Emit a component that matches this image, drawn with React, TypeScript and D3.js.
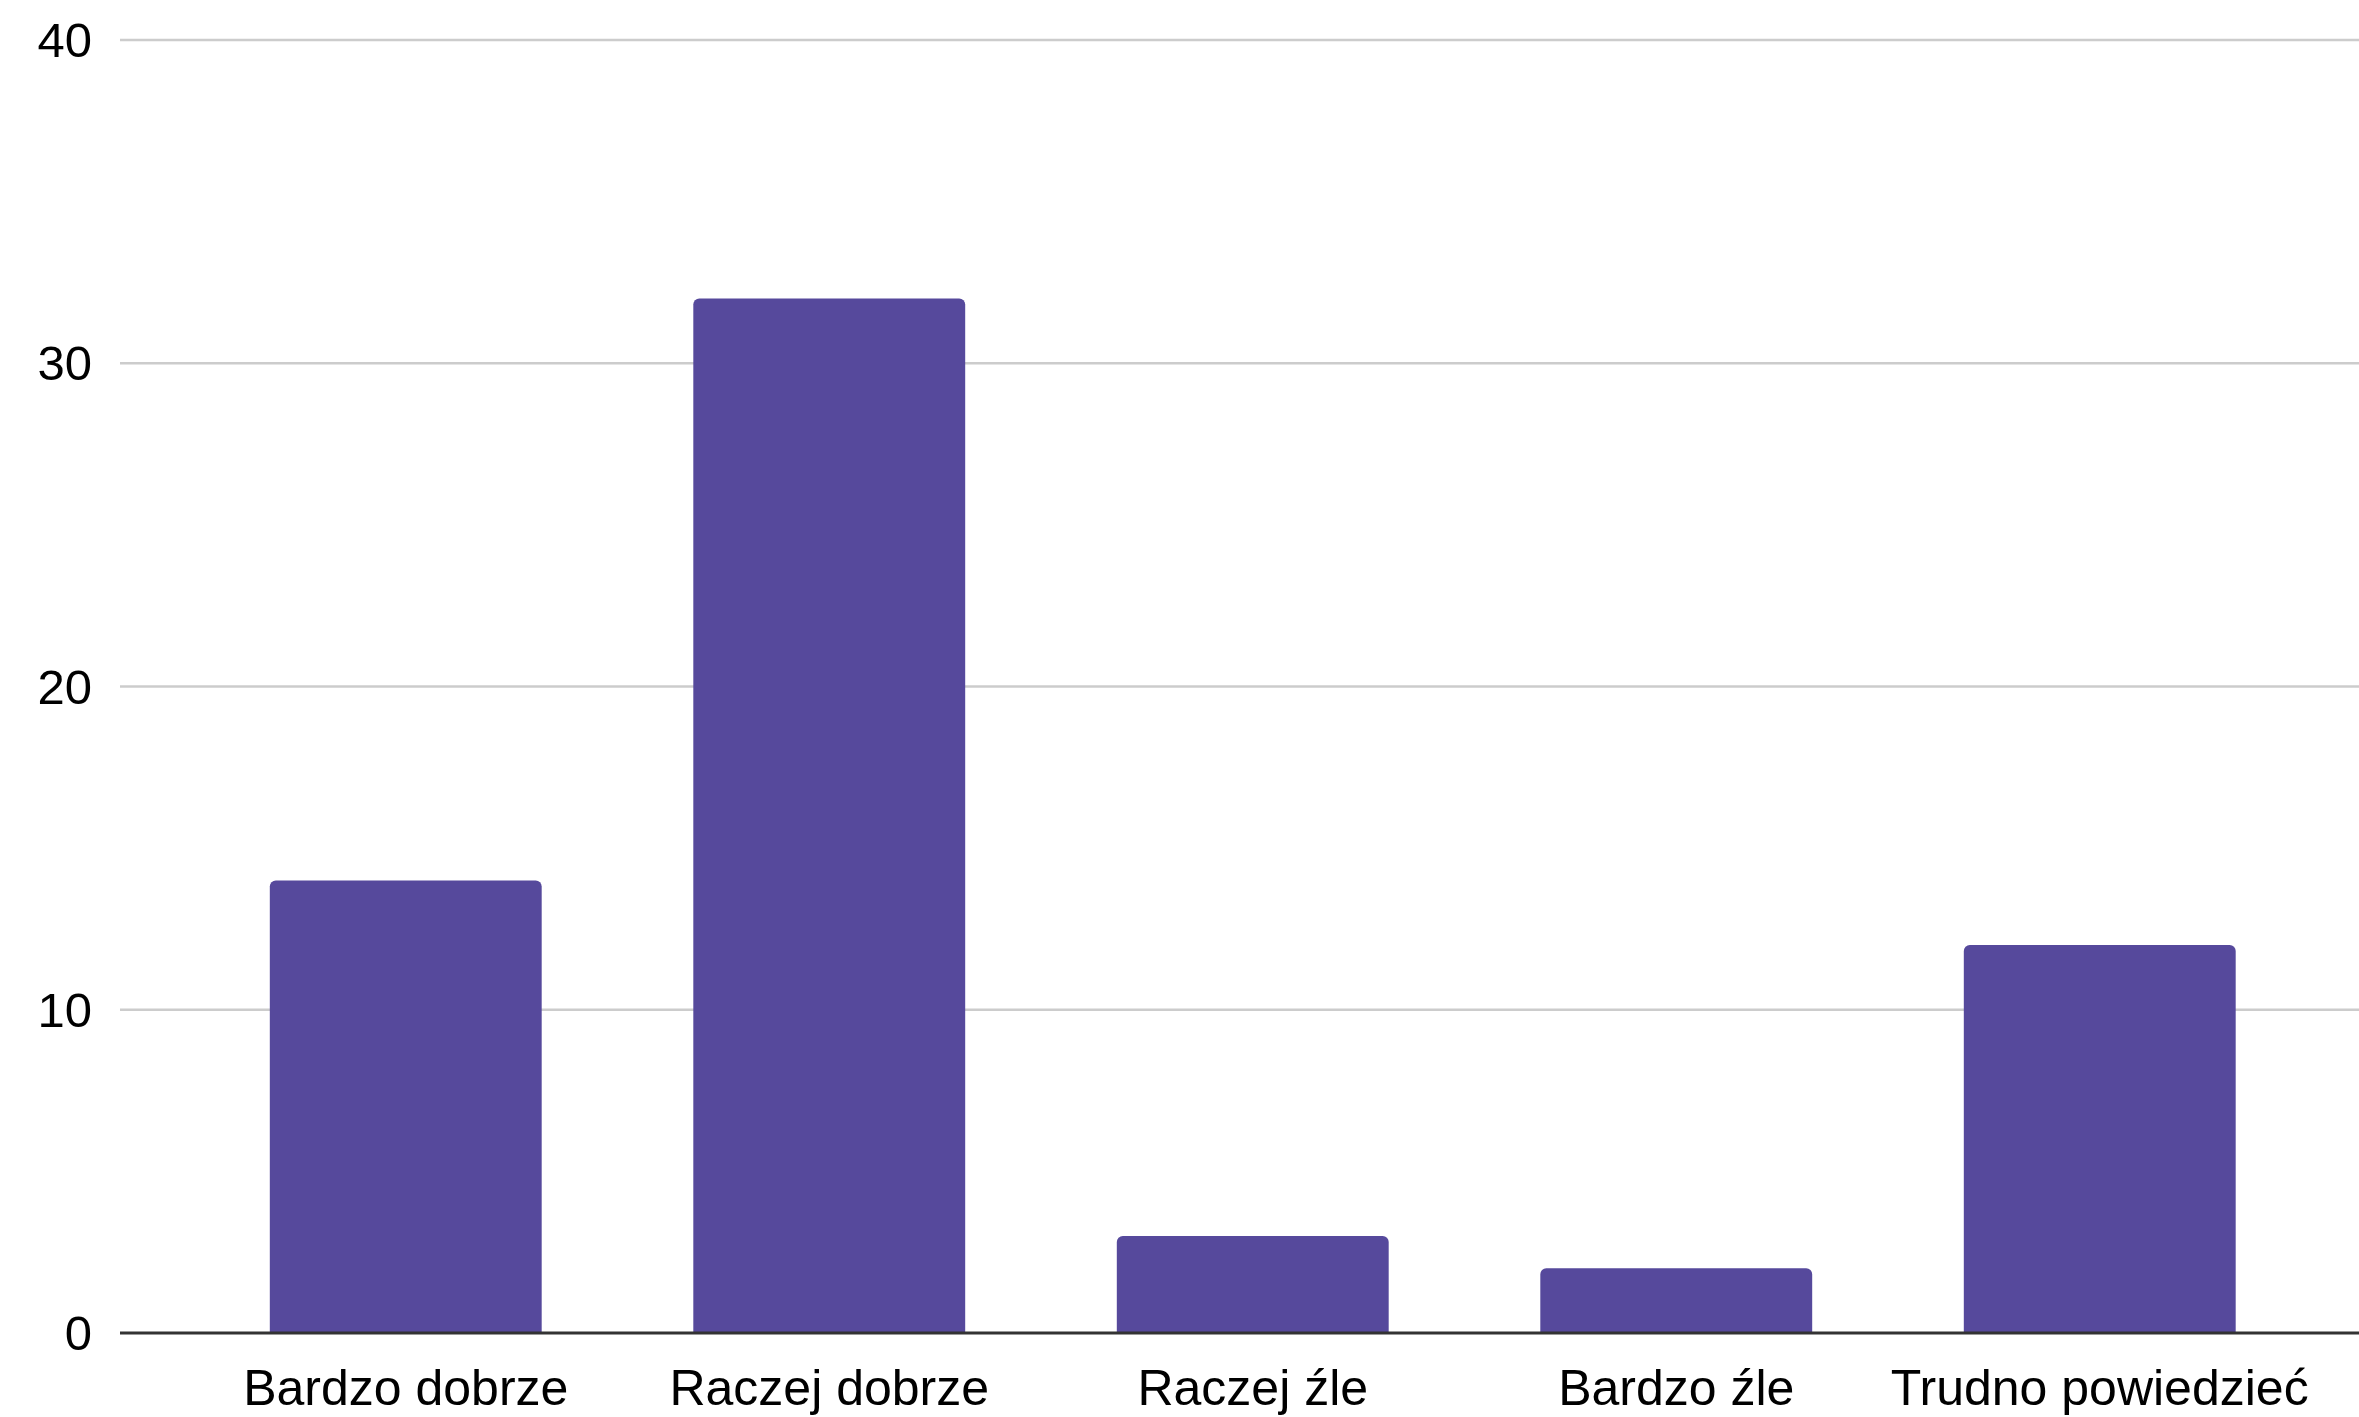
import React from "react";
import * as d3 from "d3";

const categories = ["Bardzo dobrze", "Raczej dobrze", "Raczej źle", "Bardzo źle", "Trudno powiedzieć"];
const values = [14, 32, 3, 2, 12];
const yTicks = [0, 10, 20, 30, 40];

const W = 2359;
const H = 1417;

export default function App() {
  const axisLeft = 120;
  const axisRight = W;
  const y = d3.scaleLinear().domain([0, 40]).range([1333, 40]);
  const step = 423.5;
  const x0 = 194;
  const x = d3
    .scaleBand<string>()
    .domain(categories)
    .range([x0, x0 + step * categories.length])
    .paddingInner(0.358)
    .paddingOuter(0.179);
  const bw = x.bandwidth();
  const r = 6;
  const barPath = (c: string, v: number) => {
    const left = x(c)!;
    const right = left + bw;
    const top = y(v);
    const bottom = y(0);
    const p = d3.path();
    p.moveTo(left, bottom);
    p.lineTo(left, top + r);
    p.arcTo(left, top, left + r, top, r);
    p.lineTo(right - r, top);
    p.arcTo(right, top, right, top + r, r);
    p.lineTo(right, bottom);
    p.closePath();
    return p.toString();
  };
  const font = "'Liberation Sans', Arial, sans-serif";
  return (
    <svg
      width={W}
      height={H}
      style={{ position: "absolute", left: 0, top: 0, display: "block", background: "#fff" }}
    >
      {yTicks
        .filter((t) => t !== 0)
        .map((t) => (
          <line key={t} x1={axisLeft} x2={axisRight} y1={y(t)} y2={y(t)} stroke="#cccccc" strokeWidth={2.5} />
        ))}
      {yTicks.map((t) => (
        <text
          key={"l" + t}
          x={92}
          y={y(t)}
          textAnchor="end"
          dominantBaseline="central"
          fontFamily={font}
          fontSize={49}
          fill="#000"
        >
          {t}
        </text>
      ))}
      {categories.map((c, i) => (
        <path key={c} d={barPath(c, values[i])} fill="#56499c" />
      ))}
      <line x1={axisLeft} x2={axisRight} y1={y(0)} y2={y(0)} stroke="#333333" strokeWidth={3} />
      {categories.map((c) => (
        <text
          key={"c" + c}
          x={x(c)! + bw / 2}
          y={1405}
          textAnchor="middle"
          fontFamily={font}
          fontSize={50}
          fill="#000"
        >
          {c}
        </text>
      ))}
    </svg>
  );
}
